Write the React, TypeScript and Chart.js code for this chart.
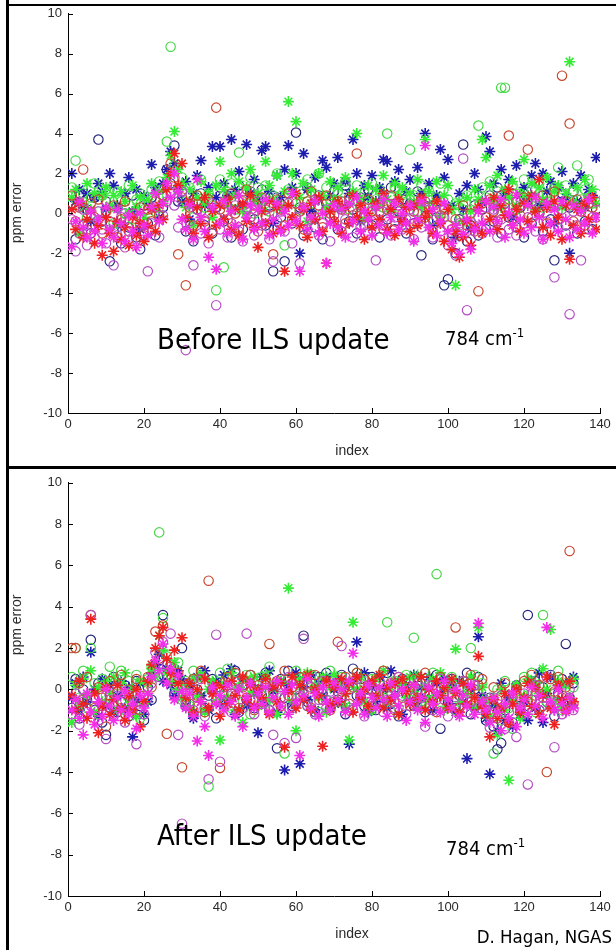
import { useEffect, useRef } from "react";
import { Chart, registerables } from "chart.js";

Chart.register(...registerables);

// Axis ticks
const X_TICKS = [0, 20, 40, 60, 80, 100, 120, 140];
const Y_TICKS = [-10, -8, -6, -4, -2, 0, 2, 4, 6, 8, 10];

// ---- Before ILS update (index 1..139) ----
const beforeMagentaStar = [
  -1.65, -0.4, 0.6, -0.7, -1.2, 0.1, -0.9, -0.3, -1.5, 0.3,
  -0.8, -1.2, 0.2, -0.5, -1.4, -0.1, -0.9, -1.7, 0.0, -0.6,
  -1.1, 0.3, 1.0, -0.4, 0.5, 1.5, 0.8, 2.0, 1.1, -0.3,
  -0.8, 0.4, -1.3, 1.7, -0.2, -0.9, -2.2, 0.3, -2.8, -0.5,
  0.6, -1.0, 0.1, -0.6, 0.9, -1.3, -0.2, 0.4, -0.8, 0.2,
  -0.5, 0.7, -1.1, -0.3, 0.5, -0.9, 0.1, -0.6, 1.0, -0.4,
  -2.9, 0.3, -0.8, -0.2, 0.6, -1.0, 0.0, -2.5, -0.5, 0.4,
  -0.7, 0.2, -1.2, 0.5, -0.4, 0.8, -0.9, 0.1, -0.3, -1.1,
  0.3, -0.6, 0.7, -1.0, -0.2, 0.5, -0.8, 0.0, -0.5, 0.4,
  -1.4, -0.3, 0.6, 3.4, -0.7, 0.2, -1.1, -0.4, 0.5, -0.9,
  -1.5, -0.6, -2.0, -1.0, -0.3, -1.8, -0.8, 0.1, -0.5, 0.6,
  -0.9, 0.3, -0.4, 0.7, -1.2, 0.0, -0.6, 0.9, -0.3, -1.0,
  0.4, -0.7, 0.8, -0.2, -1.3, 0.5, -0.5, 0.2, -0.9, 0.6,
  -0.3, -1.2, 0.4, -0.8, 0.1, -0.5, 0.7, -1.0, -0.2,
];
const beforeRedStar = [
  0.2, -0.8, 0.5, -1.2, -0.3, 0.1, -1.5, -0.6, -2.1, -0.2,
  -1.0, -1.9, -0.4, -1.3, -0.7, -1.6, -0.2, -1.1, -0.5, -1.4,
  -0.6, 0.2, -0.9, 0.4, -0.3, 1.2, 2.0, 3.0, 1.4, 2.5,
  -0.2, 0.6, -1.0, 0.3, -0.5, 0.8, -1.2, 0.1, -0.6, 0.4,
  -0.3, 0.7, -0.8, 0.2, -1.1, 0.5, -0.4, 0.9, -0.7, -1.7,
  0.1, -0.5, 0.6, -1.0, 0.3, -0.8, -2.9, 0.4, -0.2, 1.0,
  -0.6, 0.2, -1.2, 0.5, -0.3, 0.8, -0.9, -2.5, 0.1, -0.4,
  0.6, -1.0, 0.3, -0.5, 0.9, -0.2, 0.4, -1.3, 0.0, -0.7,
  0.5, -0.3, 1.0, -0.8, 0.2, -1.1, 0.7, -0.4, 0.3, -0.9,
  0.4, -0.6, 0.8, -0.2, 0.1, -1.0, 0.6, -0.5, -1.4, 0.2,
  -1.8, -0.9, -2.2, -1.2, -0.4, -1.6, -0.7, 0.3, -1.0, 0.6,
  -0.3, 0.8, -0.8, 0.4, -0.1, 1.2, -0.6, 0.2, -0.9, 0.5,
  -0.4, 0.9, 0.1, 1.7, -0.7, 0.3, -1.1, 0.6, -0.2, -1.3,
  0.4, -2.3, -0.6, 0.2, -1.0, 0.5, -0.3, 0.8, -0.8,
];
const beforePurpleCircle = [
  -0.3, -1.9, -1.0, 0.2, -1.6, -0.6, -1.2, 0.1, -0.8, -1.5,
  -0.4, -2.6, -1.1, -0.2, -1.7, -0.9, 0.0, -1.3, -0.6, -1.0,
  -2.9, -0.5, 0.3, -1.2, -0.1, 0.6, 1.0, 0.4, -0.7, 1.1,
  -6.85, -0.4, -2.6, 0.2, -1.0, -0.3, -1.5, 0.5, -4.6, -0.8,
  0.1, -1.2, -0.5, 0.4, -0.9, -1.4, 0.3, -0.2, -1.1, 0.6,
  -0.6, 0.2, -1.3, -2.4, -0.4, 0.1, -0.9, 0.5, -1.5, -0.2,
  -2.5, 0.3, -0.8, -0.3, 0.7, -1.1, -0.5, 0.2, -1.4, -0.1,
  0.4, -0.9, -0.3, 0.6, -1.2, 0.0, -0.7, 0.3, -1.0, -0.4,
  -2.35, 0.1, -0.6, 0.5, -1.1, -0.2, 0.4, -0.8, -0.3, 0.2,
  -1.3, 0.0, -0.7, 0.6, -0.4, -1.2, 0.1, -0.9, -0.2, -1.6,
  -1.1, -2.1, -0.5, 2.75, -4.85, -1.3, -0.7, -0.2, -1.0, 0.3,
  -0.6, 0.2, -1.2, -0.3, 0.5, -0.8, 0.0, -1.1, 0.4, -0.5,
  -0.2, 0.6, -0.9, 0.1, -1.3, -0.4, 0.3, -3.2, -0.7, 0.2,
  -1.0, -5.05, 0.1, -0.6, -2.35, 0.4, -0.8, -0.2, 0.6,
];
const beforeRedCircle = [
  0.9, -0.4, 0.3, 2.2, -0.8, 0.5, -0.2, 0.7, -1.0, 0.1,
  -0.6, 0.4, -1.2, -0.3, 0.6, -0.9, 0.0, -0.5, 0.3, -1.1,
  0.2, -0.4, 0.6, -0.1, 0.9, 1.4, 2.5, 1.8, -2.05, 0.8,
  -3.6, 0.3, -0.6, 0.9, 0.1, -0.4, 0.7, -0.9, 5.3, 0.2,
  0.5, -0.3, 1.0, 0.0, -0.7, 0.6, 1.2, -0.2, 0.4, -0.9,
  0.8, -0.1, 0.3, -2.05, 0.7, 0.2, -0.6, 1.0, -0.3, 0.5,
  0.1, -0.8, 0.6, 1.1, -0.2, 0.4, -0.7, 0.9, 0.0, -0.4,
  0.6, 0.2, -0.5, 0.8, -0.1, 3.0, 0.3, -0.6, 0.7, 0.1,
  -0.3, 0.5, -0.8, 0.2, 0.9, -0.4, 0.6, 0.0, -0.7, 0.4,
  0.1, -0.5, 0.7, -0.2, 0.3, -0.9, 0.5, -0.1, 0.2, -0.6,
  -0.8, -0.3, -1.1, 0.4, -0.6, 0.0, -0.9, -3.9, 0.5, -0.2,
  0.7, 0.1, -0.4, 0.9, 0.3, 3.9, -0.3, 0.6, -0.1, 0.8,
  3.2, -0.2, 0.5, 0.0, 0.9, -0.5, 0.4, 1.1, -0.3, 6.9,
  0.6, 4.5, -0.4, 0.7, 0.1, -0.6, 0.5, 0.3, -0.2,
];
const beforeGreenStar = [
  0.8, 1.2, -1.0, 0.5, 1.5, 0.2, 1.0, -0.3, 0.9, 1.3,
  0.4, 0.9, -0.5, 1.1, 0.6, 0.0, 1.4, 0.3, 0.8, -0.2,
  0.7, 1.5, 0.2, 1.1, 0.6, 1.8, 2.9, 4.1, 2.2, 1.5,
  0.3, 1.2, -0.6, 0.8, 1.6, 0.5, 1.0, -0.2, 1.4, 2.6,
  1.2, 0.4, 2.0, 0.9, 1.6, 0.1, 1.3, 2.2, 0.6, 1.0,
  0.2, 2.6, 1.4, 0.7, 1.9, 0.3, 1.1, 5.6, 2.0, 4.6,
  0.8, 1.5, -0.4, 1.2, 0.6, 2.0, 0.9, 0.3, 1.6, 0.7,
  1.3, 0.2, 1.8, 0.5, 1.1, 4.0, 0.8, -0.3, 1.4, 0.6,
  1.2, 0.4, 1.9, 0.7, 0.1, 1.5, 0.9, 1.3, -0.5, 1.0,
  0.6, 1.7, 0.3, 3.7, 1.1, 0.5, 1.6, -0.2, 0.9, 1.4,
  0.2, -3.6, 0.6, -0.4, 0.8, 0.1, 1.2, 0.7, 3.7, 2.8,
  1.4, 0.6, 1.9, 0.3, 1.2, 0.8, 1.6, 0.4, 1.0, 2.7,
  0.9, 1.5, 0.2, 1.3, 0.7, 1.8, 0.5, 1.1, 1.4, 0.3,
  1.0, 7.6, 0.6, 1.3, 0.2, 1.7, 0.8, 1.2, 0.5,
];
const beforeGreenCircle = [
  1.3, 2.65, 0.4, 1.0, -0.2, 0.8, 1.5, 0.1, 0.9, 1.2,
  0.3, -0.5, 1.1, 0.6, 0.0, 1.4, -0.3, 0.7, 1.0, 0.2,
  0.8, 1.2, 0.1, 1.6, 0.9, 3.6, 8.35, 2.4, 1.2, 1.8,
  0.6, 1.3, -0.2, 0.9, 1.7, 0.3, 1.0, 0.4, -3.85, 1.7,
  -2.7, 0.8, 1.5, 0.2, 3.05, 1.1, 0.5, 1.8, 0.0, 1.3,
  0.7, 1.4, 0.1, 0.9, 2.0, 0.4, -1.6, 1.2, 0.6, 1.5,
  0.2, 1.0, 1.7, 0.5, 0.9, 2.0, 0.0, 1.3, 0.7, 0.3,
  1.1, 0.6, 1.6, 0.2, 0.9, 1.4, 0.4, 1.0, 0.1, 1.5,
  0.7, 1.2, 0.3, 4.0, 0.8, 1.3, 0.2, 1.0, 0.5, 3.2,
  0.9, 0.1, 1.4, 0.6, 1.1, -0.3, 0.8, 1.5, 0.3, 0.7,
  -0.2, 0.5, -0.6, 0.2, 0.9, -0.4, 0.6, 4.4, 1.3, 0.8,
  1.6, 0.4, 1.1, 6.3, 6.3, 0.7, 1.4, 0.2, 1.0, 1.7,
  0.5, 1.2, 0.8, 1.5, 0.3, 1.0, 0.6, 1.3, 2.3, 0.9,
  1.4, 0.4, 1.1, 2.4, 0.7, 1.2, 1.7, 0.5, 1.0,
];
const beforeNavyStar = [
  2.0, 0.6, 1.2, 0.3, 1.0, -0.4, 0.8, 1.5, 1.1, 0.2,
  2.0, 1.4, 0.4, -0.6, 1.0, 1.8, 0.1, 1.2, -0.8, 0.9,
  0.5, 2.45, 1.3, -0.2, 1.5, 2.2, 3.1, 2.5, 1.2, 0.6,
  1.6, -0.3, 1.0, 1.9, 2.65, 0.4, 1.3, 3.35, 0.8, 3.35,
  1.5, 0.9, 3.7, 1.2, 2.1, 0.4, 3.45, 1.0, 1.7, 0.7,
  3.15, 3.35, 1.1, -0.5, 1.9, 0.8, 2.2, 3.4, 1.3, 2.0,
  -2.0, 3.0, 1.2, 0.1, 1.8, 0.7, 2.65, 2.3, 0.9, 1.5,
  2.8, 0.3, 1.6, 1.0, 3.7, 2.0, -0.4, 1.4, 0.8, 1.9,
  0.6, 1.3, 2.7, 2.6, 0.2, 1.6, 2.2, -0.3, 1.1, 1.7,
  0.5, 2.3, 1.0, 4.0, 1.5, -0.6, 0.9, 3.2, 1.8, 2.7,
  0.4, -1.2, 1.0, 0.2, 1.4, -0.8, 2.0, 1.2, 0.6, 3.85,
  3.1, 1.5, 0.3, 2.2, 1.0, 1.7, -0.2, 2.4, 0.9, 1.3,
  0.7, 1.9, 2.5, 0.4, 2.0, 1.1, 1.6, -0.5, 1.3, 2.1,
  0.8, -2.0, 1.5, 0.6, 1.9, 0.3, 1.2, 0.9, 2.8,
];
const beforeNavyCircle = [
  0.5, -1.3, 1.0, -0.6, 0.2, -1.0, 0.8, 3.7, -0.4, 0.6,
  -2.4, -0.9, 0.3, -1.5, 0.0, -0.7, 0.9, -1.2, -1.8, 0.4,
  -0.5, 0.8, -1.1, 1.2, 0.3, 2.2, 1.5, 3.4, 0.6, 1.1,
  -0.9, 0.5, -1.4, 0.2, 1.0, -0.6, 0.7, -1.0, 0.3, 1.3,
  -0.4, 0.9, -1.2, 0.6, 1.4, -0.8, 0.2, 1.1, -0.3, 0.7,
  1.2, -0.6, 0.4, -2.9, 0.8, -0.2, -2.4, 1.0, -0.5, 4.05,
  0.3, -1.1, 1.3, 0.0, -0.7, 0.9, -1.3, 0.5, -0.2, 1.1,
  -0.8, 0.6, 1.4, -0.4, 0.2, -1.0, 0.8, -0.1, 1.2, -0.6,
  0.4, -1.2, 0.9, -0.3, 1.3, -0.8, 0.1, 0.7, -1.0, 0.5,
  -0.5, 1.1, -2.1, 0.3, 0.8, -1.3, -0.2, 0.6, -3.6, -3.3,
  -1.0, -2.0, -0.3, 3.45, -1.4, -0.6, 0.4, -1.1, 0.2, -0.8,
  0.9, -0.4, 1.3, -1.0, 0.5, -0.2, 1.0, -0.7, 0.3, -1.2,
  0.6, -0.5, 1.2, 0.0, -0.9, 0.8, -0.3, -2.35, 0.5, 1.0,
  -0.6, 0.3, 1.1, -1.0, 0.4, -0.4, 0.9, -0.8, 0.2,
];

// ---- After ILS update (index 1..133) ----
const afterMagentaStar = [
  -1.0, -0.5, -1.4, -2.2, -0.2, -1.1, -1.7, -0.6, -1.3, 0.0,
  -0.8, -1.5, -0.4, -1.0, -0.1, -1.2, -0.7, -1.9, -0.3, -0.9,
  -0.2, 0.6, 1.4, 0.9, 2.2, 0.3, 1.0, -0.5, 0.7, -0.1,
  -0.9, -0.2, -1.3, -2.5, -0.6, -1.8, -3.2, 0.1, -0.7, -0.3,
  -1.0, 0.2, -0.6, -1.3, 0.0, -1.8, -0.4, 0.3, -0.9, -0.2,
  -0.7, 0.1, -1.1, -0.4, 0.4, -0.8, -0.1, -1.2, 0.2, -0.6,
  -3.2, -0.3, 0.5, -0.9, -0.2, -1.3, 0.1, -0.6, -1.0, 0.3,
  -0.5, 0.0, -1.1, 0.4, 1.75, -0.7, -0.2, -1.2, 0.2, -0.4,
  -0.9, 0.1, -0.5, -1.3, 0.3, -0.3, -0.8, 0.0, -1.5, -0.6,
  0.2, -1.0, -0.4, -1.6, 0.1, -0.7, -0.2, -1.1, 0.4, -0.5,
  -0.9, 0.0, -1.3, -0.3, -0.8, 0.2, -1.2, 3.2, -0.6, -1.0,
  -1.6, -0.4, -1.1, -2.0, -0.7, -1.4, -0.2, -1.8, -0.9, -0.5,
  -1.2, 0.1, -0.8, -0.3, -1.4, 3.0, -0.6, -1.0, 0.0, -0.7,
  -1.1, -0.4, -0.9,
];
const afterRedStar = [
  -0.3, -1.0, 0.4, -0.7, -1.4, 3.4, -0.2, -2.1, -0.8, 0.1,
  -1.2, -0.5, 0.2, -0.9, -1.5, -0.3, -1.0, 0.0, -1.8, -0.6,
  0.4, 1.2, 2.0, 2.6, 3.0, 1.5, 0.8, 1.9, 0.3, 2.5,
  -0.4, 0.3, -1.1, 0.0, -0.6, 0.5, -0.9, -0.2, 0.2, -1.3,
  0.1, -0.7, 0.4, -0.3, -1.0, 0.6, -0.5, 0.2, -0.8, 0.0,
  -0.4, 0.5, -1.2, 0.1, -0.6, 0.3, -2.8, -0.1, 0.6, -0.9,
  0.2, -0.5, 0.7, -1.0, 0.0, -0.3, -2.75, 0.4, -0.7, 0.1,
  -0.6, 0.5, -0.2, 0.3, -1.1, 0.6, -0.4, 0.0, -0.8, 0.4,
  -0.3, 0.7, -0.9, 0.1, -0.5, 0.3, -1.2, 0.5, -0.1, -0.7,
  0.2, -0.4, 0.6, -1.0, 0.0, -0.6, 0.4, -0.3, 0.1, -0.9,
  0.5, -0.2, -1.1, 0.3, -0.7, 0.1, -0.4, 1.6, -0.8, -1.2,
  -2.3, -0.5, -1.4, -0.9, -0.2, -1.6, -0.7, 0.0, -1.1, -0.4,
  0.3, -0.8, 0.1, -1.2, -0.3, 0.6, -0.9, -1.7, 0.2, -0.5,
  -1.0, 0.4, -0.6,
];
const afterPurpleCircle = [
  -1.2, -0.2, -1.7, -0.6, -1.1, 3.6, -0.4, -1.5, -0.8, -2.4,
  -0.5, -1.3, 0.1, -0.9, -1.6, -0.3, -1.0, -2.65, -0.6, -1.2,
  -0.4, 0.3, 1.8, 0.6, 2.3, 1.2, 2.7, -0.3, -2.2, -6.5,
  -0.8, 0.2, -1.0, -0.4, 0.5, -1.3, -4.35, -0.1, 2.65, -3.5,
  -0.6, 0.1, -1.1, -0.3, 0.4, -0.9, 2.7, -0.5, -1.2, 0.0,
  -0.7, 0.3, -1.0, -2.2, 0.2, -0.4, -2.6, 0.6, -0.9, -2.35,
  -0.3, 2.45, -0.8, 0.1, -1.2, -0.5, 0.4, -0.9, -0.1, -0.6,
  0.3, 2.1, -0.7, 0.0, -1.0, 0.5, -0.4, -1.3, 0.2, -0.8,
  -0.2, 0.4, -1.1, -0.5, 0.1, -0.9, 0.6, -0.3, -1.2, 0.0,
  -0.7, 0.3, -0.4, -1.8, 0.2, -1.0, -0.5, 0.5, -0.2, -1.3,
  0.1, -0.8, -0.3, 0.4, -1.1, -0.6, 0.2, -0.9, -0.4, -1.0,
  -1.85, -0.7, -1.4, -0.3, -1.9, -1.1, -0.6, -2.3, -0.9, -0.2,
  -4.6, -0.5, 0.2, -1.0, -0.4, 0.6, -0.8, -2.8, -0.3, -1.2,
  -0.6, 0.0, -1.0,
];
const afterRedCircle = [
  2.0, 2.0, 0.3, -0.5, 0.6, 3.6, -0.9, 0.1, -0.4, -1.8,
  0.4, -0.8, -0.1, 0.7, -1.2, 0.0, -0.6, 0.5, -1.0, -0.3,
  0.6, 0.1, 2.8, 1.5, 3.1, -2.15, 1.1, 0.4, 0.8, -3.77,
  0.2, -0.7, 0.5, -0.3, 0.9, -1.1, 5.26, 0.0, -0.5, -3.8,
  0.3, 0.6, -0.2, 0.8, -0.9, 0.1, -0.4, 0.7, -1.0, 0.2,
  -0.6, 0.5, 2.2, -0.1, 0.4, -0.8, 0.9, -0.3, 0.1, -0.7,
  0.6, -0.2, 0.3, -0.9, 0.7, 0.0, -0.5, 0.4, -1.0, 0.2,
  2.3, -0.4, 0.6, -0.7, 0.1, 0.8, -0.3, 0.5, -0.9, 0.0,
  0.4, -0.6, 0.9, -0.2, 0.3, -1.0, 0.6, -0.4, 0.1, -0.8,
  0.5, 0.0, -0.7, 0.8, -0.3, 0.2, -1.1, 0.6, -0.5, 0.1,
  -0.2, 3.0, -0.9, 0.4, -0.4, 0.7, -0.8, 0.2, 0.5, -0.6,
  -1.2, 0.1, -0.5, -0.9, 0.3, -1.6, -0.4, 0.0, -1.0, 0.4,
  -0.6, 0.7, -0.3, 0.2, -0.8, -4.0, 0.5, -0.1, 0.6, -0.4,
  0.1, 6.7, -0.7,
];
const afterGreenStar = [
  -1.6, 0.2, -0.8, 0.5, -0.3, 0.9, -1.1, 0.1, -0.6, 0.4,
  -0.2, 0.6, -1.0, 0.3, 0.8, -0.5, 0.0, -1.3, 0.4, -0.7,
  0.3, 1.0, 0.6, 2.6, 1.9, 0.8, 0.4, 1.3, 0.0, -0.4,
  0.2, -0.9, 0.5, -0.3, 0.7, -1.1, 0.0, 0.4, -0.6, -2.45,
  0.3, -0.4, 0.8, -1.0, 0.1, -1.6, 0.5, -0.2, 0.6, -0.8,
  0.0, 0.7, -0.5, 0.3, -1.2, 0.4, -0.1, 4.9, -0.6, -2.0,
  0.5, -0.3, 0.8, -0.9, 0.2, -0.4, 0.6, -1.1, 0.1, 0.7,
  -0.5, 0.3, -0.8, -2.45, 3.25, 0.0, 0.6, -0.6, 0.2, -1.0,
  0.5, -0.2, 0.9, -0.7, 0.1, 0.4, -1.2, 0.3, -0.4, 0.6,
  -0.1, 0.7, -0.9, 0.2, -0.5, 0.5, -0.3, 0.8, -1.0, 0.0,
  0.4, 1.95, -0.6, 0.3, -0.2, 0.6, -0.8, 3.0, 0.1, -0.5,
  -1.3, -0.4, -2.2, 0.0, -1.0, -4.4, -0.6, 0.2, -1.4, -0.3,
  0.5, -0.8, 0.3, -0.2, 1.0, 0.0, 2.9, -0.6, 0.4, -0.9,
  0.2, -0.4, 0.5,
];
const afterGreenCircle = [
  0.6, 2.0, -0.4, 0.9, -0.9, 2.0, 0.3, -1.2, 0.5, -0.3,
  1.1, -0.6, 0.2, 0.9, -1.0, 0.4, -0.2, 0.7, -1.4, 0.1,
  0.5, 1.1, 0.8, 7.6, 3.45, 1.6, 0.9, 0.2, 1.3, -0.5,
  0.4, -0.8, 0.9, -0.2, 0.6, -1.0, -4.7, 0.3, -0.5, 0.8,
  -0.3, 1.0, -0.9, 0.4, 0.1, -0.6, 0.7, -1.2, 0.3, -0.1,
  0.6, -0.7, 1.1, -0.3, 0.2, -1.0, -3.1, 0.5, -0.4, 0.9,
  -0.2, 0.4, -0.8, 0.7, 0.0, -1.1, 0.5, -0.5, 0.9, 0.2,
  -0.6, 0.6, -0.1, -0.9, 0.3, 0.8, -0.4, 0.2, -1.0, 0.5,
  0.0, -0.7, 0.6, 3.25, -0.3, 0.4, -0.9, 0.1, 0.7, -0.5,
  2.5, 0.3, -0.8, 0.5, -0.1, 0.8, 5.58, -0.6, 0.2, -0.3,
  0.6, -1.0, 0.1, 0.4, -0.5, 2.0, 0.7, -0.2, 0.3, -1.2,
  -0.7, -3.1, 0.0, -1.5, 0.4, -0.9, -1.9, 0.1, -0.5, 0.6,
  -0.3, 0.8, -1.1, 0.2, 3.6, -0.6, 0.5, -0.2, 0.9, -1.0,
  0.3, -0.6, 0.1,
];
const afterNavyStar = [
  -0.4, 0.3, -1.0, 0.6, -0.6, 1.8, 0.0, -1.3, 0.5, -0.8,
  0.2, -1.1, -0.3, 0.4, -0.9, 0.1, -2.3, -0.5, 0.3, -1.2,
  -0.6, 0.8, 1.2, 1.7, 0.4, 1.0, 0.2, -0.3, 0.9, 0.5,
  -0.8, 0.2, -1.4, 0.6, -0.3, 0.9, -1.0, 0.0, 0.4, -0.7,
  0.7, -0.5, 1.0, -1.2, 0.1, 0.5, -0.8, 0.3, -0.2, -2.1,
  0.6, -0.6, 0.9, -0.1, -1.1, 0.4, -3.9, 0.2, -0.7, 0.8,
  -3.6, 0.1, -0.5, 0.7, -1.0, 0.3, -0.3, 0.6, -0.9, 0.0,
  0.5, -0.7, 0.2, -2.65, 0.4, 2.3, -0.4, 0.8, -1.1, 0.1,
  -0.6, 0.6, 0.0, -0.9, 0.9, -0.3, 0.4, -1.2, 0.2, -0.5,
  0.7, -0.8, 0.1, -0.4, 0.6, -1.0, 0.3, -0.2, 0.5, -0.7,
  0.2, -1.1, 0.4, -0.6, -3.35, 0.0, -0.9, 2.55, -0.3, -1.4,
  -4.1, -0.8, -2.0, 0.3, -1.5, -0.4, -1.8, 0.1, -1.2, -0.6,
  -1.5, 0.4, -0.9, 0.8, -1.6, -0.2, 0.6, -1.0, 0.2, -0.5,
  0.3, -0.7, 0.6,
];
const afterNavyCircle = [
  -0.9, 0.5, -1.4, 0.0, -0.5, 2.4, -1.0, 0.3, -1.6, -2.2,
  -0.3, 0.6, -1.1, -0.6, 0.2, -1.3, -0.2, 0.4, -0.8, -1.5,
  0.1, -0.5, 1.0, 1.4, 3.6, 0.7, 1.2, -0.2, 0.5, 2.0,
  -0.6, 0.3, -1.2, 0.0, 0.8, -0.9, -0.3, 0.5, -1.4, 0.1,
  -0.7, 0.6, -0.2, 0.9, -1.1, 0.2, -0.5, 0.7, -0.9, 0.4,
  -0.3, 0.8, -1.0, 0.1, -2.85, 0.5, -0.4, 0.9, -0.8, 0.0,
  0.4, 2.6, -0.6, 0.3, -1.1, 0.6, -0.2, 0.8, -0.9, 0.1,
  -0.5, 0.7, -1.2, 0.2, 1.0, -0.3, 0.5, -0.8, 0.0, 0.6,
  -1.0, 0.3, -0.4, 0.8, -0.7, 0.1, -1.3, 0.5, -0.2, 0.4,
  -0.8, 0.6, -0.1, -1.1, 0.3, -0.5, 0.7, -1.9, 0.2, -0.6,
  0.5, -0.9, 0.1, -0.4, 0.8, -1.2, 0.0, 0.6, -0.7, -1.5,
  -0.4, -1.8, -2.9, -2.6, -1.0, -0.3, -1.6, 0.2, -0.8, -1.2,
  3.6, -0.5, 0.4, -1.0, 0.1, -0.6, 0.7, -1.3, -0.2, 0.5,
  2.2, -0.4, 0.3,
];

// Marker styles per channel (first entry is painted on top)
type Marker = "circle" | "star";
interface Channel {
  values: number[];
  marker: Marker;
  color: string;
}

const NAVY_STAR = "#1c1cae";
const NAVY_CIRCLE = "#23237e";
const GREEN_STAR = "#35ec35";
const GREEN_CIRCLE = "#46d846";
const RED_STAR = "#ee2020";
const RED_CIRCLE = "#c8462e";
const MAGENTA_STAR = "#f22ee8";
const PURPLE_CIRCLE = "#b44cc4";

const beforeChannels: Channel[] = [
  { values: beforeMagentaStar, marker: "star", color: MAGENTA_STAR },
  { values: beforeRedStar, marker: "star", color: RED_STAR },
  { values: beforePurpleCircle, marker: "circle", color: PURPLE_CIRCLE },
  { values: beforeRedCircle, marker: "circle", color: RED_CIRCLE },
  { values: beforeGreenStar, marker: "star", color: GREEN_STAR },
  { values: beforeGreenCircle, marker: "circle", color: GREEN_CIRCLE },
  { values: beforeNavyStar, marker: "star", color: NAVY_STAR },
  { values: beforeNavyCircle, marker: "circle", color: NAVY_CIRCLE },
];

const afterChannels: Channel[] = [
  { values: afterMagentaStar, marker: "star", color: MAGENTA_STAR },
  { values: afterRedStar, marker: "star", color: RED_STAR },
  { values: afterPurpleCircle, marker: "circle", color: PURPLE_CIRCLE },
  { values: afterRedCircle, marker: "circle", color: RED_CIRCLE },
  { values: afterGreenStar, marker: "star", color: GREEN_STAR },
  { values: afterGreenCircle, marker: "circle", color: GREEN_CIRCLE },
  { values: afterNavyStar, marker: "star", color: NAVY_STAR },
  { values: afterNavyCircle, marker: "circle", color: NAVY_CIRCLE },
];

const TICK_FONT = { family: "'Liberation Sans', Arial, sans-serif", size: 13 };
const TICK_COLOR = "#2a2a2a";

// MATLAB-style tick marks drawn inward from the axis lines
const inwardTicks = {
  id: "inwardTicks",
  afterDraw(chart: any) {
    const { ctx, chartArea, scales } = chart;
    const len = 5;
    ctx.save();
    ctx.strokeStyle = "#000";
    ctx.lineWidth = 1;
    ctx.beginPath();
    for (const t of scales.x.ticks) {
      const px = Math.round(scales.x.getPixelForValue(t.value)) + 0.5;
      ctx.moveTo(px, chartArea.bottom);
      ctx.lineTo(px, chartArea.bottom - len);
    }
    for (const t of scales.y.ticks) {
      const py = Math.round(scales.y.getPixelForValue(t.value)) + 0.5;
      ctx.moveTo(chartArea.left, py);
      ctx.lineTo(chartArea.left + len, py);
    }
    ctx.stroke();
    ctx.restore();
  },
};

interface PanelLayout {
  padTop: number;
  padRight: number;
  yWidth: number;
  xHeight: number;
}

function buildChart(canvas: HTMLCanvasElement, channels: Channel[], lay: PanelLayout) {
  return new Chart(canvas, {
    type: "scatter",
    data: {
      datasets: channels.map((c) => ({
        data: c.values.map((v, i) => ({ x: i + 1, y: v })),
        pointStyle: c.marker,
        pointRadius: c.marker === "circle" ? 4.7 : 5.5,
        pointBorderWidth: c.marker === "circle" ? 1.15 : 1.6,
        borderColor: c.color,
        backgroundColor: "rgba(0,0,0,0)",
        showLine: false,
      })),
    },
    options: {
      animation: false,
      responsive: false,
      events: [],
      layout: { padding: { top: lay.padTop, right: lay.padRight, bottom: 0, left: 0 } },
      plugins: { legend: { display: false }, tooltip: { enabled: false } },
      scales: {
        x: {
          type: "linear",
          min: 0,
          max: 140,
          afterBuildTicks: (s: any) => {
            s.ticks = X_TICKS.map((value) => ({ value }));
          },
          afterFit: (s: any) => {
            s.height = lay.xHeight;
          },
          ticks: { font: TICK_FONT, color: TICK_COLOR, padding: 4, maxRotation: 0 },
          grid: { display: false, drawTicks: false, tickLength: 0 },
          border: { display: true, color: "#000", width: 1 },
        },
        y: {
          type: "linear",
          min: -10,
          max: 10,
          afterBuildTicks: (s: any) => {
            s.ticks = Y_TICKS.map((value) => ({ value }));
          },
          afterFit: (s: any) => {
            s.width = lay.yWidth;
          },
          ticks: { font: TICK_FONT, color: TICK_COLOR, padding: 6 },
          grid: { display: false, drawTicks: false, tickLength: 0 },
          border: { display: true, color: "#000", width: 1 },
        },
      },
    },
    plugins: [inwardTicks],
  } as any);
}

const NOTE_FONT = "'DejaVu Sans Condensed', 'DejaVu Sans', Tahoma, sans-serif";
const LABEL_FONT = "'Liberation Sans', Arial, sans-serif";

function Abs(props: { x: number; y: number; style?: any; children: any }) {
  return (
    <div
      style={{
        position: "absolute",
        left: props.x,
        top: props.y,
        whiteSpace: "nowrap",
        lineHeight: 1,
        ...props.style,
      }}
    >
      {props.children}
    </div>
  );
}

export default function App() {
  const topRef = useRef<HTMLCanvasElement>(null);
  const botRef = useRef<HTMLCanvasElement>(null);

  useEffect(() => {
    const a = buildChart(topRef.current!, beforeChannels, {
      padTop: 13,
      padRight: 16,
      yWidth: 68,
      xHeight: 53,
    });
    const b = buildChart(botRef.current!, afterChannels, {
      padTop: 9,
      padRight: 16,
      yWidth: 68,
      xHeight: 54,
    });
    return () => {
      a.destroy();
      b.destroy();
    };
  }, []);

  const note = { fontFamily: NOTE_FONT, fontStretch: "condensed", color: "#000" };
  const axisLabel = { fontFamily: LABEL_FONT, fontSize: 14, color: "#2a2a2a" };

  return (
    <div
      style={{
        position: "absolute",
        left: 0,
        top: 0,
        width: 616,
        height: 950,
        background: "#fff",
        overflow: "hidden",
      }}
    >
      <canvas ref={topRef} width={616} height={466} style={{ position: "absolute", left: 0, top: 0 }} />
      <canvas ref={botRef} width={616} height={481} style={{ position: "absolute", left: 0, top: 469 }} />

      {/* figure frame */}
      <div style={{ position: "absolute", left: 6, top: 0, width: 3, height: 950, background: "#000" }} />
      <div style={{ position: "absolute", left: 6, top: 4, width: 610, height: 2, background: "#000" }} />
      <div style={{ position: "absolute", left: 6, top: 466, width: 610, height: 3, background: "#000" }} />

      {/* axis titles */}
      <Abs x={352} y={450} style={{ ...axisLabel, transform: "translate(-50%, -50%)" }}>index</Abs>
      <Abs x={352} y={933} style={{ ...axisLabel, transform: "translate(-50%, -50%)" }}>index</Abs>
      <Abs x={16} y={213} style={{ ...axisLabel, transform: "translate(-50%, -50%) rotate(-90deg)" }}>ppm error</Abs>
      <Abs x={16} y={625} style={{ ...axisLabel, transform: "translate(-50%, -50%) rotate(-90deg)" }}>ppm error</Abs>

      {/* annotations */}
      <Abs x={157} y={325} style={{ ...note, fontSize: 29 }}>Before ILS update</Abs>
      <Abs x={445} y={328} style={{ ...note, fontSize: 20 }}>
        784 cm<sup style={{ fontSize: 13, verticalAlign: "8px", lineHeight: 0 }}>-1</sup>
      </Abs>
      <Abs x={157} y={821} style={{ ...note, fontSize: 29 }}>After ILS update</Abs>
      <Abs x={446} y={838} style={{ ...note, fontSize: 20 }}>
        784 cm<sup style={{ fontSize: 13, verticalAlign: "8px", lineHeight: 0 }}>-1</sup>
      </Abs>
      <Abs x={612} y={928} style={{ ...note, fontSize: 18.5, transform: "translateX(-100%)" }}>D. Hagan, NGAS</Abs>
    </div>
  );
}
